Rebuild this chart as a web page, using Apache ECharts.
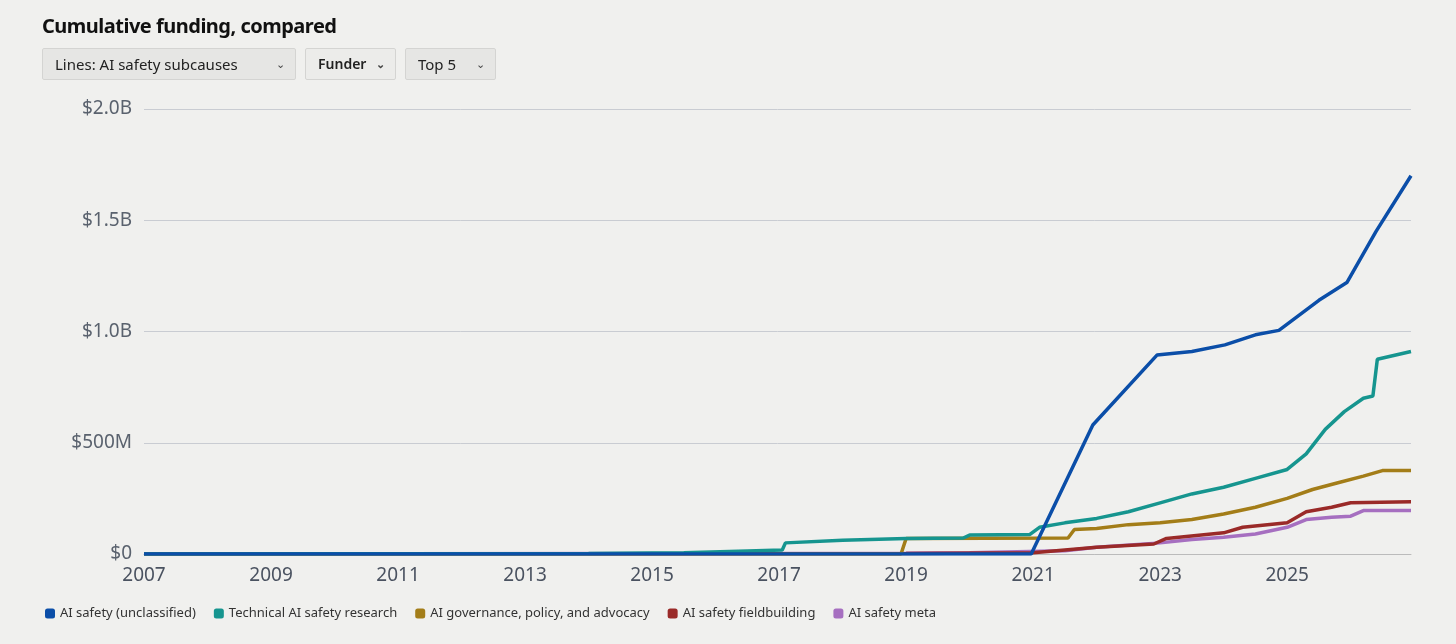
<!DOCTYPE html>
<html>
<head>
<meta charset="utf-8">
<script src="https://cdn.jsdelivr.net/npm/echarts@6/dist/echarts.min.js"></script>
<style>
  body { margin: 0; background: #f0f0ee; font-family: "Noto Sans", sans-serif; }
  .title { position: absolute; left: 42px; top: 12px; font-size: 20px; font-weight: bold; color: #111; letter-spacing: -0.5px; }
  .sel { position: absolute; top: 48px; height: 32px; box-sizing: border-box; border: 1px solid #d4d4d2; background: #e6e6e4;
         font-size: 15px; color: #222; line-height: 30px; padding-left: 12px; border-radius: 2px; }
  .sel span { position: absolute; right: 10px; top: 0; font-size: 11px; color: #444; }
  #chart { position: absolute; left: 0; top: 0; width: 1456px; height: 644px; }
</style>
</head>
<body>
<div id="chart"></div>
<div class="title">Cumulative funding, compared</div>
<div class="sel" style="left:42px;width:254px;">Lines: AI safety subcauses<span>&#8964;</span></div>
<div class="sel" style="left:305px;width:91px;background:#ececea;font-weight:600;font-size:14px;">Funder<span>&#8964;</span></div>
<div class="sel" style="left:405px;width:91px;">Top 5<span>&#8964;</span></div>
<script>
// 系列名称与颜色
var names = ['AI safety (unclassified)', 'Technical AI safety research', 'AI governance, policy, and advocacy', 'AI safety fieldbuilding', 'AI safety meta'];
var colors = ['#0b4ea8', '#16958f', '#a37d18', '#9a2a28', '#a66fc0'];

// [年份, 累计金额(百万美元)]
var unclassified = [[2007, 0], [2020.97, 0], [2021.94, 580], [2022.95, 894], [2023.5, 910], [2024.02, 940], [2024.5, 985], [2024.87, 1005], [2025.5, 1140], [2025.94, 1220], [2026.4, 1450], [2026.95, 1700]];
var technical = [[2007, 0], [2014, 2], [2015.5, 6], [2016.5, 14], [2017.05, 18], [2017.1, 50], [2018, 62], [2019, 70], [2019.9, 72], [2020, 85], [2020.95, 88], [2021.1, 120], [2021.5, 140], [2022, 160], [2022.5, 190], [2023, 230], [2023.5, 270], [2024, 300], [2024.5, 340], [2025, 380], [2025.3, 450], [2025.6, 560], [2025.9, 640], [2026.2, 700], [2026.35, 710], [2026.42, 875], [2026.95, 910]];
var governance = [[2007, 0], [2018.92, 0], [2019, 70], [2021.55, 72], [2021.65, 110], [2022, 115], [2022.5, 132], [2023, 140], [2023.5, 155], [2024, 180], [2024.5, 210], [2025, 250], [2025.4, 290], [2025.8, 320], [2026.2, 350], [2026.5, 375], [2026.95, 375]];
var fieldbuilding = [[2007, 0], [2019, 2], [2021, 6], [2022, 30], [2022.9, 45], [2023.1, 70], [2024, 95], [2024.3, 120], [2025, 140], [2025.3, 190], [2025.7, 210], [2026, 230], [2026.95, 235]];
var meta = [[2007, 0], [2019, 3], [2020, 6], [2021.5, 15], [2022, 30], [2023, 50], [2023.5, 65], [2024, 75], [2024.5, 90], [2025, 120], [2025.3, 155], [2025.7, 165], [2026, 170], [2026.2, 195], [2026.95, 195]];
var seriesData = [unclassified, technical, governance, fieldbuilding, meta];

var myChart = echarts.init(document.getElementById('chart'));
var option = {
  backgroundColor: '#f0f0ee',
  color: colors,
  grid: { left: 144, right: 45, top: 109, bottom: 90 },
  legend: {
    left: 40, top: 602, itemWidth: 10, itemHeight: 10, itemGap: 18, icon: 'roundRect',
    textStyle: { fontSize: 13, color: '#333', fontFamily: 'Noto Sans' },
    data: names
  },
  xAxis: {
    type: 'value', min: 2007, max: 2026.95, interval: 2,
    axisLine: { lineStyle: { color: '#bbb' } },
    axisTick: { show: false },
    splitLine: { show: false },
    axisLabel: { color: '#4a5260', fontSize: 19, margin: 12, fontFamily: 'Noto Sans',
      formatter: function (v) { return v > 2026 ? '' : String(v); } }
  },
  yAxis: {
    type: 'value', min: 0, max: 2000, interval: 500,
    axisLine: { show: false }, axisTick: { show: false },
    splitLine: { lineStyle: { color: '#c9ccd2' } },
    axisLabel: { color: '#5a626e', fontSize: 19, margin: 12, fontFamily: 'Noto Sans',
      formatter: function (v) {
        if (v === 0) return '$0';
        if (v >= 1000) return '$' + (v / 1000).toFixed(1) + 'B';
        return '$' + v + 'M';
      } }
  },
  series: seriesData.map(function (d, i) {
    return { name: names[i], type: 'line', data: d, showSymbol: false, z: 10 - i,
      lineStyle: { width: 3.5 } };
  })
};
myChart.setOption(option);
</script>
</body>
</html>
